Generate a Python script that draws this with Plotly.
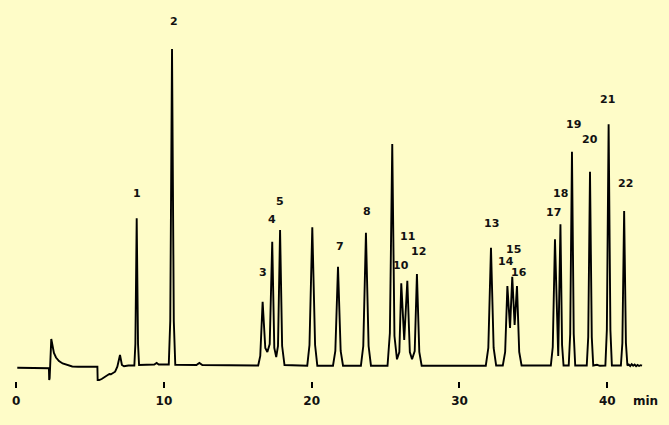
import plotly.graph_objects as go

# ---- data ----
# trace vertices: retention time (min) and detector signal (arbitrary units, baseline = 0)
trace_time = [
    0.08, 1.90, 2.10, 2.22, 2.24, 2.27, 2.38, 2.46, 2.56, 2.70, 2.90, 3.15, 3.45, 3.80, 4.20,
    5.50, 5.52, 5.79, 6.02, 6.17, 6.31, 6.42, 6.58, 6.70, 6.85, 7.03, 7.16, 7.30, 7.60,
    8.00, 8.07, 8.16, 8.25, 8.32, 9.35, 9.51, 9.65,
    10.33, 10.43, 10.55, 10.67, 10.77, 12.20, 12.40, 12.60,
    16.38, 16.52, 16.68, 16.86, 17.00, 17.16, 17.33, 17.47, 17.60, 17.72, 17.86, 18.00, 18.16,
    19.70, 19.85, 20.04, 20.23, 20.38,
    21.44, 21.60, 21.78, 21.96, 22.12,
    23.33, 23.49, 23.67, 23.85, 24.01,
    25.13, 25.29, 25.45, 25.60, 25.77, 25.93, 26.06, 26.26, 26.47, 26.64, 26.79, 26.97, 27.12, 27.28, 27.44,
    31.78, 31.95, 32.13, 32.31, 32.48,
    32.93, 33.09, 33.24, 33.42, 33.57, 33.73, 33.89, 34.04, 34.20,
    36.18, 36.31, 36.46, 36.68, 36.83, 36.94, 37.04,
    37.39, 37.49, 37.61, 37.73, 37.83,
    38.61, 38.71, 38.83, 38.95, 39.05, 39.30, 39.50,
    39.87, 39.97, 40.09, 40.21, 40.31,
    40.92, 41.02, 41.14, 41.26, 41.36, 41.45, 41.55, 41.65, 41.75, 41.85, 41.95, 42.05, 42.15, 42.25, 42.35,
]
trace_signal = [
    -1.7, -1.7, -2.3, -2.3, -14.0, -12.0, 27.0, 19.0, 13.0, 8.5, 5.0, 2.5, 0.8, -0.5, -0.7,
    -0.7, -14.7, -13.0, -10.7, -9.7, -8.0, -8.3, -6.7, -5.7, -0.7, 11.0, 1.0, -0.3, 0.5,
    0.5, 22.0, 147.7, 22.0, 1.0, 1.5, 3.0, 1.5,
    1.5, 45.0, 317.0, 45.0, 1.2, 1.0, 3.0, 1.0,
    0.5, 10.0, 64.3, 18.0, 14.0, 22.0, 124.3, 18.0, 9.0, 20.0, 136.0, 20.0, 1.0,
    0.3, 21.0, 138.7, 21.0, 0.3,
    0.3, 15.0, 99.3, 15.0, 0.3,
    0.3, 20.0, 133.3, 20.0, 0.3,
    0.3, 33.0, 222.0, 30.0, 6.7, 14.0, 82.7, 26.0, 85.3, 14.0, 6.7, 15.0, 92.0, 14.0, 0.3,
    0.3, 18.0, 118.3, 18.0, 0.5,
    0.5, 14.0, 80.0, 38.0, 89.3, 41.0, 80.0, 14.0, 0.5,
    0.5, 19.0, 126.7, 10.0, 141.7, 21.0, 0.5,
    0.5, 32.0, 214.3, 32.0, 0.5,
    0.5, 29.0, 194.3, 29.0, 0.5, 1.2, 0.2,
    0.5, 36.0, 241.7, 36.0, 0.5,
    0.5, 23.0, 155.0, 23.0, 0.5, 1.5, 0.0, 1.8, 0.3, 1.4, -0.2, 1.0, 0.0, 0.8, 0.3,
]

# peak numbers and where their labels sit (time, signal)
peak_labels = ["1", "2", "3", "4", "5", "7", "8", "10", "11", "12", "13",
               "14", "15", "16", "17", "18", "19", "20", "21", "22"]
label_time = [8.16, 10.70, 16.68, 17.29, 17.86, 21.91, 23.72, 26.02, 26.50, 27.24, 32.18,
              33.15, 33.62, 34.05, 36.39, 36.80, 37.70, 38.83, 40.03, 41.22]
label_signal = [172.7, 345.0, 93.3, 147.0, 165.0, 120.0, 154.3, 100.3, 129.3, 114.3, 142.7,
                104.3, 117.0, 93.3, 153.7, 172.7, 241.7, 227.0, 267.0, 182.3]

tick_values = [0, 10, 20, 30, 40]
tick_text = ["0", "10", "20", "30", "40"]
axis_unit = "min"

# ---- figure ----
BG = "#FEFCC8"
FONT = "DejaVu Sans, Verdana, sans-serif"

fig = go.Figure()
fig.add_trace(go.Scatter(
    x=trace_time, y=trace_signal, mode="lines",
    line=dict(color="#000000", width=1.9),
    hoverinfo="skip", showlegend=False,
))

for txt, tx, ty in zip(peak_labels, label_time, label_signal):
    fig.add_annotation(x=tx, y=ty, xref="x", yref="y", text=txt, showarrow=False,
                       font=dict(family=FONT, size=11, color="#111111", weight="bold"),
                       xanchor="center", yanchor="middle")

fig.add_annotation(x=42.6, y=-0.053, xref="x", yref="paper", text=axis_unit, showarrow=False,
                   font=dict(family=FONT, size=12, color="#111111", weight="bold"),
                   xanchor="center", yanchor="middle")

fig.update_layout(
    width=669, height=425,
    margin=dict(l=0, r=0, t=0, b=44, pad=0),
    paper_bgcolor=BG, plot_bgcolor=BG,
    xaxis=dict(range=[-1.089, 44.175], showgrid=False, zeroline=False, showline=False,
               tickmode="array", tickvals=tick_values, ticktext=tick_text,
               ticks="outside", ticklen=6, tickwidth=1.5, tickcolor="#000000",
               ticklabelstandoff=3,
               tickfont=dict(family=FONT, size=12, color="#111111", weight="bold")),
    yaxis=dict(range=[-15, 366], visible=False, showgrid=False, zeroline=False),
)

fig.write_html(
    "out.html",
    config={"displayModeBar": False},
    post_script="document.body.style.margin='0px';document.body.style.background='" + BG + "';",
)
